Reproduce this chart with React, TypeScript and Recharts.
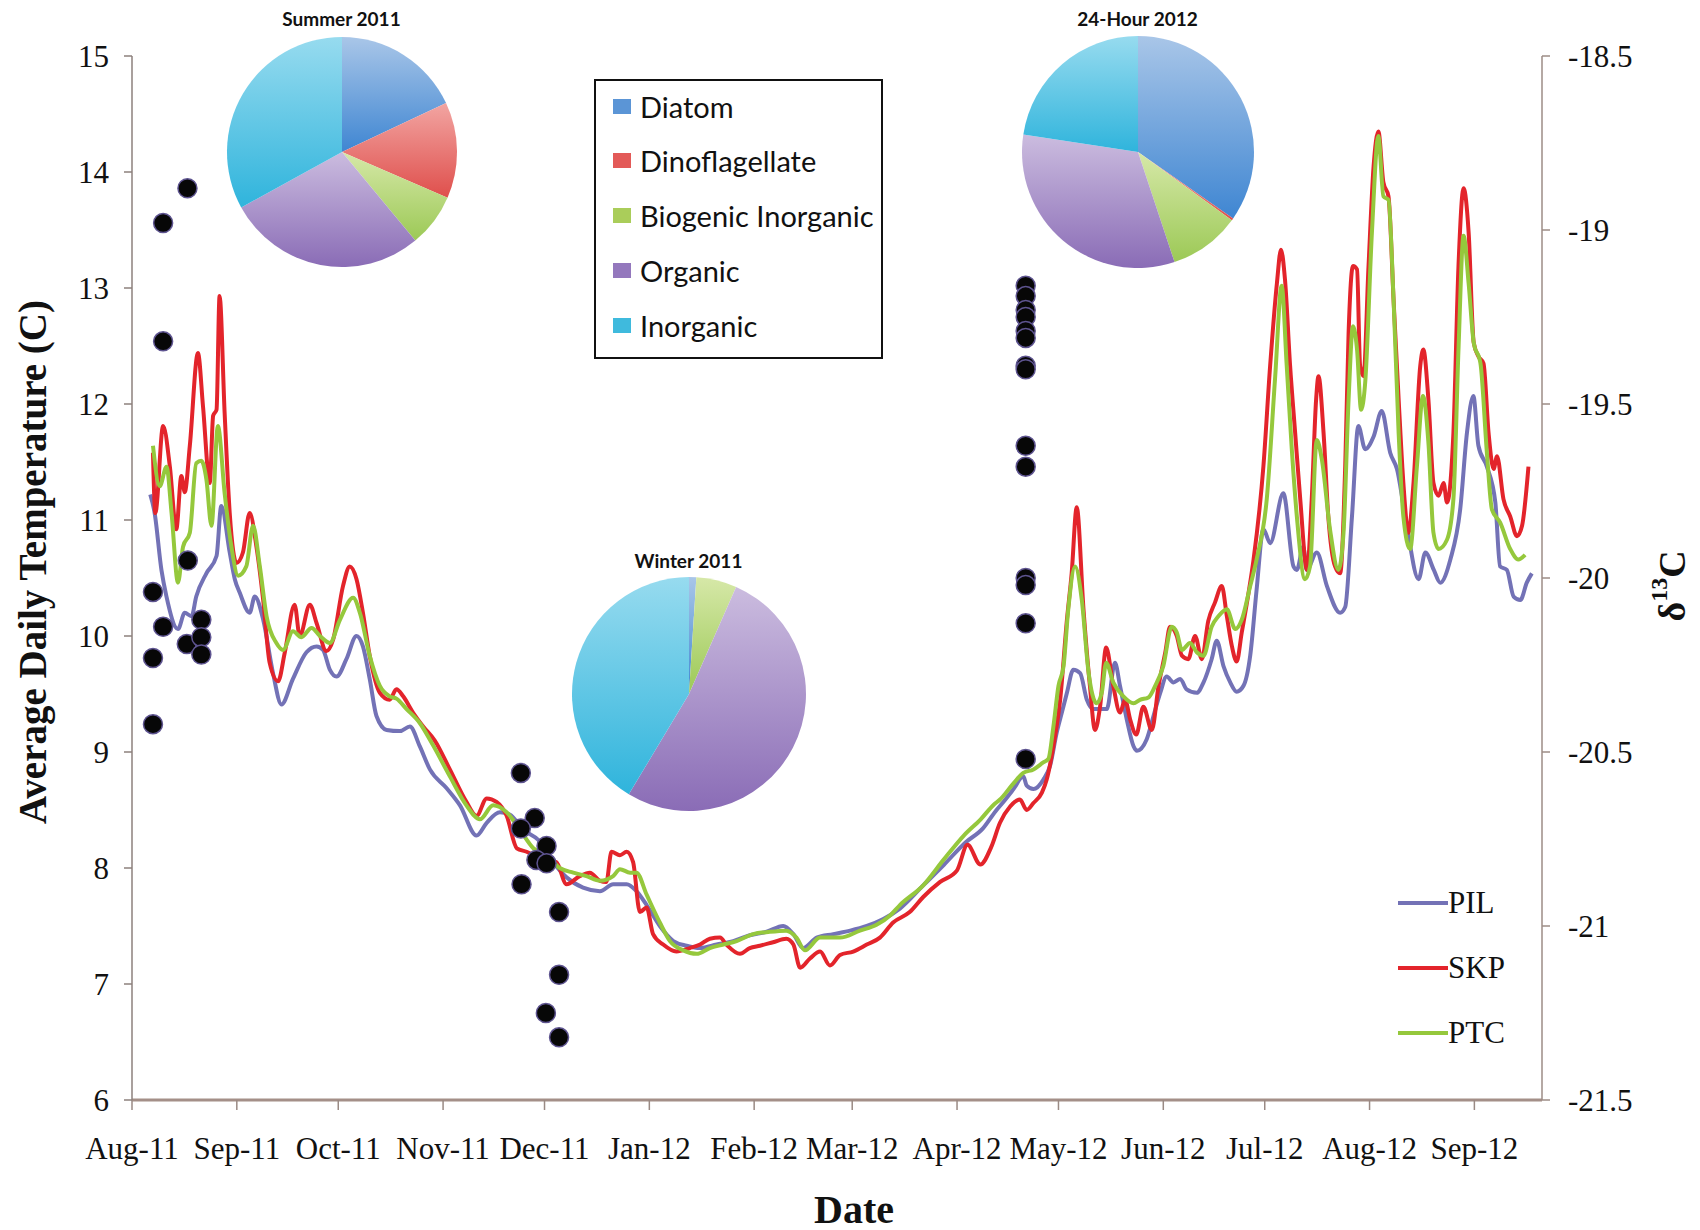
import {
  ComposedChart,
  Line,
  Scatter,
  XAxis,
  YAxis,
  PieChart,
  Pie,
  Cell,
} from "recharts";

// days counted from 1 Aug 2011
const monthTicks = [0, 31, 61, 92, 122, 153, 184, 213, 244, 274, 305, 335, 366, 397];
const monthLabels = [
  "Aug-11", "Sep-11", "Oct-11", "Nov-11", "Dec-11", "Jan-12", "Feb-12",
  "Mar-12", "Apr-12", "May-12", "Jun-12", "Jul-12", "Aug-12", "Sep-12",
];
const tempTicks = [6, 7, 8, 9, 10, 11, 12, 13, 14, 15];
const d13cTicks = [-21.5, -21, -20.5, -20, -19.5, -19, -18.5];

// [day, average daily temperature]
const pilReadings = [
  [5.4, 11.22], [6.7, 11.06], [8.7, 10.57], [10.2, 10.34], [13.6, 10.06], [15.6, 10.2],
  [17.6, 10.17], [19, 10.34], [22, 10.54], [25, 10.69], [26.4, 11.12], [28.9, 10.72],
  [30.4, 10.49], [31.9, 10.37], [34.8, 10.2], [36.3, 10.34], [38.8, 10.14], [41.7, 9.68],
  [44.2, 9.41], [47.6, 9.63], [51.6, 9.86], [54.6, 9.91], [56.5, 9.88], [58.5, 9.71],
  [60.5, 9.65], [63.4, 9.8], [66.4, 10.0], [68.3, 9.91], [70.3, 9.63], [72.3, 9.31],
  [75.3, 9.19], [79.2, 9.18], [82.2, 9.22], [85.1, 9.05], [88.1, 8.85], [93, 8.69],
  [97, 8.54], [101.9, 8.28], [104.9, 8.39], [108.8, 8.48], [111.7, 8.46], [115.7, 8.33],
  [120.6, 8.23], [124.6, 8.05], [128.5, 7.92], [133.4, 7.83], [138.4, 7.8], [142.3, 7.86],
  [146.3, 7.86], [149.2, 7.8], [152.2, 7.68], [156.1, 7.5], [160.1, 7.37], [164, 7.33],
  [168, 7.31], [172.9, 7.34], [177.8, 7.37], [182.7, 7.42], [187.7, 7.45], [192.6, 7.5],
  [195.6, 7.43], [198.5, 7.31], [202.5, 7.4], [207.4, 7.43], [212.4, 7.46], [217.3, 7.5],
  [222.2, 7.56], [227.1, 7.65], [234, 7.85], [240.2, 8.03], [246.5, 8.22], [251.6, 8.34],
  [255.4, 8.49], [258, 8.58], [260.7, 8.68], [263.6, 8.79], [264.6, 8.71], [266.6, 8.68],
  [269.5, 8.76], [271.5, 8.88], [273.5, 9.17], [275, 9.34], [276.5, 9.51], [278.4, 9.71],
  [280.4, 9.68], [282.4, 9.45], [284.3, 9.37], [288.3, 9.37], [290.7, 9.77], [292.2, 9.57],
  [294.2, 9.28], [296.2, 9.05], [297.2, 9.01], [300.1, 9.11], [302.1, 9.31], [304.1, 9.51],
  [306, 9.65], [308, 9.6], [310, 9.63], [311.9, 9.54], [314.9, 9.51], [316.9, 9.6],
  [319.3, 9.8], [320.8, 9.96], [322.8, 9.74], [324.8, 9.6], [326.7, 9.52], [328.7, 9.57],
  [330.7, 9.83], [332.6, 10.4], [334.6, 10.92], [336.6, 10.8], [340.5, 11.23], [343.5, 10.6],
  [344.5, 10.57], [346.4, 10.77], [347.4, 10.57], [350.4, 10.72], [353.4, 10.43], [357.3, 10.2],
  [358.8, 10.25], [360.8, 11.03], [362.7, 11.81], [364.7, 11.61], [367.2, 11.72], [369.6, 11.94],
  [372.1, 11.58], [374.1, 11.44], [377, 10.95], [380.5, 10.49], [382.5, 10.72], [385, 10.57],
  [386.9, 10.46], [389.9, 10.66], [392.8, 11.09], [394.8, 11.75], [396.7, 12.07], [398.2, 11.64],
  [400.7, 11.46], [403.2, 11.15], [404.6, 10.6], [406.6, 10.57], [408.6, 10.34], [410.6, 10.31],
  [412.5, 10.46], [414, 10.54],
];

const skpReadings = [
  [6.2, 11.58], [6.9, 11.06], [9.2, 11.81], [11.2, 11.46], [13.1, 10.92], [14.6, 11.38],
  [15.6, 11.24], [17.1, 11.64], [19.5, 12.44], [21, 11.98], [23, 11.32], [24, 11.9],
  [25, 11.95], [25.9, 12.93], [27.4, 11.92], [28.9, 11.06], [30.9, 10.63], [32.8, 10.72],
  [34.8, 11.06], [36.8, 10.77], [38.8, 10.31], [40.7, 9.77], [43.2, 9.61], [45.2, 9.86],
  [48.1, 10.27], [49.6, 10.0], [52.6, 10.27], [54.6, 10.11], [57.5, 9.87], [59.5, 9.97],
  [62.4, 10.43], [64.4, 10.6], [66.4, 10.49], [68.3, 10.2], [70.3, 9.83], [73.3, 9.51],
  [76.2, 9.45], [78.2, 9.54], [80.2, 9.48], [83.1, 9.34], [86.1, 9.22], [89.5, 9.1],
  [94, 8.85], [98.9, 8.57], [101.9, 8.45], [104.9, 8.6], [107.8, 8.57], [110.8, 8.45],
  [113.8, 8.17], [116.7, 8.14], [120.6, 8.08], [125.5, 8.05], [128.5, 7.86], [132.4, 7.93],
  [135.4, 7.96], [138.4, 7.89], [140.3, 7.88], [141.8, 8.14], [144.3, 8.11], [146.3, 8.14],
  [148.2, 8.05], [150.2, 7.62], [152.2, 7.66], [154.1, 7.43], [157.1, 7.34], [161, 7.28],
  [165, 7.31], [168, 7.34], [170.9, 7.39], [173.9, 7.4], [175.8, 7.34], [179.8, 7.26],
  [182.7, 7.31], [185.7, 7.33], [189.6, 7.36], [193.5, 7.39], [195.6, 7.34], [197.6, 7.14],
  [200.5, 7.22], [203.5, 7.28], [206.4, 7.16], [209.4, 7.25], [213.3, 7.28], [217.3, 7.34],
  [221.2, 7.4], [225.1, 7.53], [230, 7.62], [234, 7.75], [239, 7.88], [244, 7.98],
  [247.1, 8.2], [250.9, 8.03], [254.1, 8.18], [256.7, 8.39], [259.7, 8.53], [262.6, 8.59],
  [264.6, 8.5], [266.6, 8.56], [269.1, 8.65], [270.5, 8.76], [272.5, 9.05], [274.5, 9.45],
  [276.5, 10.14], [277.9, 10.54], [279.4, 11.11], [281.4, 10.23], [283.3, 9.57], [284.8, 9.19],
  [286.3, 9.39], [288.1, 9.9], [290.2, 9.57], [292.2, 9.34], [293.7, 9.45], [295.2, 9.28],
  [297, 9.15], [299.1, 9.39], [301.6, 9.19], [303.6, 9.57], [305.6, 9.86], [307, 10.08],
  [309, 10.0], [310.5, 9.83], [312.4, 9.8], [314.4, 10.0], [316.4, 9.8], [318.3, 10.13],
  [320.3, 10.29], [322.3, 10.43], [323.8, 10.17], [325.3, 9.91], [326.7, 9.78], [328.2, 10.03],
  [330.2, 10.37], [331.7, 10.66], [334.6, 11.46], [336.6, 12.33], [338.6, 13.04], [339.8, 13.33],
  [341, 13.07], [342.5, 12.33], [344, 11.75], [345.5, 11.18], [347.5, 10.57], [348.9, 11.18],
  [350.2, 12.04], [350.9, 12.24], [352.4, 11.75], [353.8, 11.03], [355.8, 10.6], [357.3, 10.54],
  [358.8, 11.46], [359.8, 12.61], [361.1, 13.19], [362.3, 13.16], [363.2, 12.33], [364.2, 12.24],
  [365.7, 13.19], [367.2, 14.05], [368.6, 14.35], [370.1, 13.91], [371.6, 13.79], [373.1, 12.9],
  [374.6, 12.04], [376, 11.32], [377.5, 10.89], [379, 11.32], [381, 12.33], [381.9, 12.47],
  [383.4, 12.04], [384.9, 11.32], [386.4, 11.21], [387.9, 11.32], [388.9, 11.15], [390.8, 11.75],
  [392.3, 13.19], [393.8, 13.86], [395.3, 13.48], [396.8, 12.53], [398.2, 12.41], [399.7, 12.35],
  [401.2, 11.75], [402.7, 11.44], [403.7, 11.55], [405.6, 11.18], [407.6, 11.03], [409.6, 10.86],
  [411.1, 10.95], [413, 11.46],
];

const ptcReadings = [
  [6.2, 11.64], [8.2, 11.29], [10.2, 11.46], [11.7, 11.06], [13.6, 10.46], [15.1, 10.77],
  [17.1, 10.89], [19, 11.49], [20.5, 11.51], [22, 11.35], [23.5, 10.95], [25.4, 11.81],
  [27.4, 11.23], [29.4, 10.77], [31.4, 10.52], [33.8, 10.6], [35.8, 10.95], [37.8, 10.6],
  [39.8, 10.17], [42.7, 9.94], [44.7, 9.88], [47.6, 10.04], [50.1, 9.99], [53.1, 10.07],
  [55.6, 10.0], [58.5, 9.94], [61.5, 10.14], [65.4, 10.33], [67.4, 10.2], [70.3, 9.83],
  [73.3, 9.57], [76.2, 9.48], [78.2, 9.46], [81.2, 9.37], [85.1, 9.25], [89, 9.06],
  [94, 8.79], [98.9, 8.54], [102.9, 8.42], [106.8, 8.54], [110.8, 8.48], [114.7, 8.33],
  [118.7, 8.17], [122.6, 8.11], [126.5, 8.0], [130.5, 7.96], [134.4, 7.93], [138.4, 7.89],
  [142.3, 7.93], [144.3, 7.99], [147.3, 7.96], [149.2, 7.96], [152.2, 7.77], [156.1, 7.53],
  [159.1, 7.37], [163, 7.29], [167, 7.26], [170.9, 7.31], [174.9, 7.34], [178.8, 7.37],
  [183.7, 7.43], [188.6, 7.45], [193.5, 7.46], [196.5, 7.4], [199, 7.29], [203.5, 7.4],
  [209.4, 7.4], [215.3, 7.46], [220.2, 7.51], [224.2, 7.59], [227.1, 7.68], [234, 7.85],
  [240, 8.07], [246, 8.28], [251, 8.42], [255, 8.55], [256.7, 8.59], [260.7, 8.73],
  [263.6, 8.82], [266.6, 8.85], [269.5, 8.91], [271, 8.94], [272.5, 9.22], [274, 9.57],
  [275.5, 9.74], [276.9, 10.23], [278.9, 10.6], [280.9, 10.31], [282.8, 9.71], [285.3, 9.42],
  [286.8, 9.51], [288.1, 9.77], [290.2, 9.6], [293.2, 9.48], [296.2, 9.42], [298.1, 9.45],
  [300.6, 9.47], [302.6, 9.57], [305, 9.74], [307.5, 10.08], [309, 10.03], [310.5, 9.88],
  [312.9, 9.94], [314.9, 9.86], [316.9, 9.83], [319.3, 10.08], [321.3, 10.17], [323.8, 10.23],
  [326.3, 10.06], [328.2, 10.14], [330.7, 10.43], [332.6, 10.66], [335.6, 11.18], [338.1, 12.24],
  [340, 13.02], [341.5, 12.33], [343, 11.61], [344.5, 11.03], [346.9, 10.49], [348.4, 10.6],
  [350.4, 11.69], [351.9, 11.52], [354.3, 10.92], [356.8, 10.57], [358.3, 10.89], [359.8, 12.04],
  [361.1, 12.67], [362.3, 12.47], [363.5, 11.95], [364.7, 12.18], [366.7, 13.48], [368.6, 14.31],
  [370.1, 13.79], [371.6, 13.76], [373.1, 12.9], [374.6, 11.75], [376, 11.03], [378, 10.75],
  [380, 11.46], [381.8, 12.07], [383.4, 11.67], [384.9, 10.89], [386.4, 10.75], [388.9, 10.83],
  [390.8, 11.18], [392.3, 12.47], [393.8, 13.45], [395.3, 13.04], [396.8, 12.53], [398.8, 12.35],
  [400.7, 11.58], [402.2, 11.09], [404.6, 10.98], [407.6, 10.75], [410, 10.66], [412, 10.7],
];

// [day, δ13C] sample values (right axis)
const d13cSamples = [
  [6.2, -20.04], [6.2, -20.23], [6.2, -20.42], [9.2, -18.98], [9.2, -19.32], [9.2, -20.14],
  [16.4, -18.88], [16.5, -19.95], [16.2, -20.19], [20.5, -20.12], [20.5, -20.17], [20.5, -20.22],
  [115, -20.56], [119.1, -20.69], [115, -20.72], [122.6, -20.77], [119.6, -20.81], [122.6, -20.82],
  [115.2, -20.88], [126.3, -20.96], [126.3, -21.14], [122.4, -21.25], [126.3, -21.32],
  [264.3, -19.16], [264.3, -19.19], [264.3, -19.23], [264.3, -19.25], [264.3, -19.29],
  [264.3, -19.31], [264.3, -19.39], [264.3, -19.4], [264.3, -19.62], [264.3, -19.68],
  [264.3, -20.0], [264.3, -20.02], [264.3, -20.13], [264.3, -20.52],
];

// pie composition (%)
const pieCategories = ["Diatom", "Dinoflagellate", "Biogenic Inorganic", "Organic", "Inorganic"];
const summer2011 = [18, 13.5, 7.5, 28, 33];
const winter2011 = [1, 0, 5.6, 52, 41.4];
const hour24_2012 = [34.7, 0.3, 9.9, 32.5, 22.6];

const SERIF = '"Liberation Serif", "Times New Roman", serif';
const SANS = 'Lato, "Noto Sans", sans-serif';

const pieGrad = [
  ["#a9c6e8", "#3f86d2"],
  ["#f2a5a2", "#df4f4c"],
  ["#d6e8a8", "#9cc956"],
  ["#cbbcdf", "#8a6cb6"],
  ["#97dbef", "#2fb4dc"],
];
const legendSquare = ["#5b95d6", "#e35a58", "#aacd5a", "#9478bd", "#3fbadd"];

const series = [
  { name: "PIL", color: "#7372b6", readings: pilReadings },
  { name: "SKP", color: "#e3242b", readings: skpReadings },
  { name: "PTC", color: "#95c83c", readings: ptcReadings },
];

const toPoints = (r: number[][]) => r.map(([d, t]) => ({ d, t }));
const sampleData = d13cSamples.map(([d, v]) => ({ d, v }));

function CompositionPie({ id, title, values, cx, cy, r, titleY }: {
  id: string; title: string; values: number[]; cx: number; cy: number; r: number; titleY: number;
}) {
  const data = pieCategories.map((name, i) => ({ name, value: values[i] }));
  const box = r * 2 + 10;
  return (
    <>
      <div
        style={{
          position: "absolute", left: cx - 150, width: 300, top: titleY - 10,
          textAlign: "center", fontFamily: SANS, fontWeight: 700, fontSize: 19,
          lineHeight: "20px", color: "#111",
        }}
      >
        {title}
      </div>
      <div style={{ position: "absolute", left: cx - box / 2, top: cy - box / 2 }}>
        <PieChart width={box} height={box} margin={{ top: 0, right: 0, bottom: 0, left: 0 }}>
          <defs>
            {pieGrad.map(([a, b], i) => (
              <linearGradient key={i} id={`${id}-g${i}`} x1="0" y1="0" x2="0" y2="1">
                <stop offset="0%" stopColor={a} />
                <stop offset="100%" stopColor={b} />
              </linearGradient>
            ))}
          </defs>
          <Pie
            data={data}
            dataKey="value"
            cx="50%"
            cy="50%"
            outerRadius={r}
            startAngle={90}
            endAngle={-270}
            stroke="none"
            isAnimationActive={false}
          >
            {data.map((_, i) => (
              <Cell key={i} fill={`url(#${id}-g${i})`} />
            ))}
          </Pie>
        </PieChart>
      </div>
    </>
  );
}

export default function App() {
  return (
    <div style={{ position: "absolute", left: 0, top: 0, width: 1700, height: 1230, background: "#fff" }}>
      <ComposedChart width={1700} height={1230} margin={{ top: 56, right: 0, bottom: 0, left: 0 }}>
        <XAxis
          dataKey="d"
          type="number"
          domain={[0, 417]}
          ticks={monthTicks}
          interval={0}
          tickFormatter={(v) => monthLabels[monthTicks.indexOf(v)]}
          height={130}
          tickSize={10}
          tickMargin={27}
          tick={{ fontFamily: SERIF, fontSize: 31, fill: "#111" }}
          axisLine={{ stroke: "#a48f88", strokeWidth: 3 }}
          tickLine={{ stroke: "#9a8a84", strokeWidth: 1.5 }}
          label={() => (
            <text x={854} y={1209} textAnchor="middle" dominantBaseline="central"
              fontFamily={SERIF} fontWeight="bold" fontSize={40} fill="#111">
              Date
            </text>
          )}
        />
        <YAxis
          yAxisId="left"
          domain={[6, 15]}
          ticks={tempTicks}
          interval={0}
          width={132}
          tickSize={8}
          tickMargin={15}
          tick={{ fontFamily: SERIF, fontSize: 31, fill: "#111" }}
          axisLine={{ stroke: "#8c817c", strokeWidth: 1.5 }}
          tickLine={{ stroke: "#8c817c", strokeWidth: 1.5 }}
          label={() => (
            <text x={32} y={562} transform="rotate(-90 32 562)" textAnchor="middle"
              dominantBaseline="central" fontFamily={SERIF} fontWeight="bold" fontSize={39} fill="#111">
              Average Daily Temperature (C)
            </text>
          )}
        />
        <YAxis
          yAxisId="right"
          orientation="right"
          domain={[-21.5, -18.5]}
          ticks={d13cTicks}
          interval={0}
          width={158}
          tickSize={8}
          tickMargin={18}
          tick={{ fontFamily: SERIF, fontSize: 31, fill: "#111" }}
          axisLine={{ stroke: "#9c8c86", strokeWidth: 1.5 }}
          tickLine={{ stroke: "#9c8c86", strokeWidth: 1.5 }}
          label={() => (
            <text x={1672} y={586} transform="rotate(-90 1672 586)" textAnchor="middle"
              dominantBaseline="central" fontFamily={SERIF} fontWeight="bold" fontSize={38} fill="#111">
              <tspan>δ</tspan>
              <tspan dy={-13} fontSize={24}>13</tspan>
              <tspan dy={13}>C</tspan>
            </text>
          )}
        />
        {series.map((s) => (
          <Line
            key={s.name}
            yAxisId="left"
            name={s.name}
            data={toPoints(s.readings)}
            dataKey="t"
            type="monotone"
            stroke={s.color}
            strokeWidth={4}
            dot={false}
            activeDot={false}
            isAnimationActive={false}
          />
        ))}
        <Scatter
          yAxisId="right"
          name="δ13C"
          data={sampleData}
          dataKey="v"
          isAnimationActive={false}
          shape={(p: any) => (
            <circle cx={p.cx} cy={p.cy} r={9.5} fill="#070707" stroke="#5e5490" strokeWidth={1.5} />
          )}
        />
      </ComposedChart>

      {/* series legend, lower right */}
      <div style={{ position: "absolute", left: 1398, top: 884 }}>
        {series.map((s) => (
          <div key={s.name} style={{ display: "flex", alignItems: "center", height: 38, marginBottom: 27 }}>
            <span style={{ display: "inline-block", width: 50, height: 4, background: s.color }} />
            <span style={{ fontFamily: SERIF, fontSize: 31, color: "#111", lineHeight: "38px" }}>{s.name}</span>
          </div>
        ))}
      </div>

      <CompositionPie id="sum" title="Summer 2011" values={summer2011} cx={341.5} cy={152} r={115} titleY={19} />
      <CompositionPie id="win" title="Winter 2011" values={winter2011} cx={688.5} cy={694} r={117} titleY={561} />
      <CompositionPie id="h24" title="24-Hour 2012" values={hour24_2012} cx={1137.5} cy={152} r={116} titleY={19} />

      <div
        style={{
          position: "absolute", left: 594, top: 79, width: 285, height: 276,
          border: "2px solid #111", background: "#fff",
        }}
      >
        {pieCategories.map((c, i) => (
          <div
            key={c}
            style={{
              position: "absolute", left: 17, top: 25 + i * 54.8 - 17, height: 34,
              display: "flex", alignItems: "center", whiteSpace: "nowrap",
            }}
          >
            <span style={{ display: "inline-block", width: 18, height: 15, background: legendSquare[i], marginRight: 9 }} />
            <span style={{ fontFamily: SANS, fontSize: 29, color: "#111" }}>{c}</span>
          </div>
        ))}
      </div>
    </div>
  );
}
